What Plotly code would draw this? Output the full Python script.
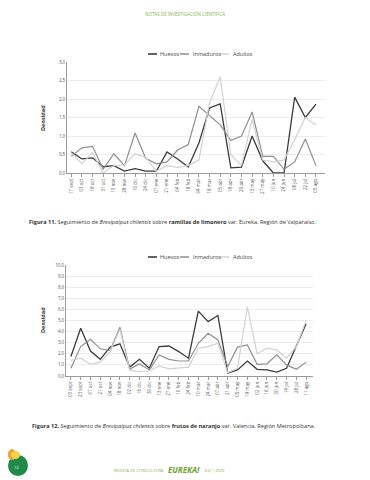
import plotly.graph_objects as go

# ---------------- data ----------------
fechas1 = ["17 sept", "03 oct", "18 oct", "31 oct", "13 nov", "28 nov", "10 dic", "24 dic",
           "07 ene", "21 ene", "04 feb", "18 feb", "04 mar", "18 mar", "05 abr", "18 abr",
           "29 abr", "13 may", "27 may", "10 jun", "24 jun", "08 jul", "22 jul", "05 ago"]
huevos1 = [0.57, 0.38, 0.41, 0.17, 0.20, 0.05, 0.12, 0.05, 0.05, 0.57, 0.38, 0.16,
           0.81, 1.76, 1.87, 0.14, 0.16, 1.00, 0.33, 0.00, 0.00, 2.05, 1.50, 1.86]
inmad1 = [0.45, 0.68, 0.72, 0.10, 0.52, 0.20, 1.08, 0.40, 0.25, 0.30, 0.62, 0.77,
          1.80, 1.55, 1.30, 0.88, 1.00, 1.65, 0.45, 0.45, 0.10, 0.30, 0.92, 0.20]
adult1 = [0.55, 0.25, 0.55, 0.00, 0.20, 0.22, 0.52, 0.42, 0.05, 0.20, 0.15, 0.20,
          0.35, 1.90, 2.60, 0.50, 0.20, 1.45, 0.35, 0.30, 0.35, 0.90, 1.50, 1.30]

fechas2 = ["03 sept", "23 sept", "07 oct", "21 oct", "04 nov", "18 nov", "02 dic", "16 dic",
           "30 dic", "13 ene", "27 ene", "10 feb", "24 feb", "10 mar", "24 mar", "07 abr",
           "21 abr", "05 may", "19 may", "02 jun", "16 jun", "30 jun", "14 jul", "28 jul", "11 ago"]
huevos2 = [1.75, 4.30, 2.25, 1.50, 2.60, 2.90, 0.80, 1.50, 0.70, 2.65, 2.70, 2.20, 1.60,
           5.85, 4.90, 5.45, 0.25, 0.55, 1.35, 0.60, 0.55, 0.35, 0.70, 2.70, 4.70]
inmad2 = [0.70, 2.65, 3.30, 2.45, 2.30, 4.40, 0.60, 1.10, 0.55, 1.90, 1.50, 1.35, 1.35,
          2.95, 3.85, 3.25, 0.85, 2.60, 2.80, 1.05, 1.10, 1.90, 1.00, 0.60, 1.25]
adult2 = [1.40, 1.60, 1.05, 1.25, 2.20, 4.20, 0.50, 0.40, 0.45, 0.90, 0.65, 0.70, 0.80,
          2.50, 2.65, 2.95, 0.30, 0.70, 6.25, 2.00, 2.50, 2.35, 1.60, 2.65, 5.00]

series_names = ["Huevos", "Inmaduros", "Adultos"]
yticks1 = [0, 0.5, 1, 1.5, 2, 2.5, 3]
yticks2 = list(range(0, 11))

# ---------------- style ----------------
OFF = 8                      # default page body margin of the html page
W, H = 370 - OFF, 480 - OFF
colors = ["#3b3b3b", "#8f8f8f", "#d2d2d2"]
widths = [1.3, 1.2, 1.2]
FONT = "Open Sans"

def px(x):
    return (x - OFF) / W

def py(y):
    return 1 - (y - OFF) / H

fig = go.Figure()

for vals, name, c, w in zip([huevos1, inmad1, adult1], series_names, colors, widths):
    fig.add_trace(go.Scatter(x=fechas1, y=vals, name=name, mode="lines",
                             line=dict(color=c, width=w), xaxis="x", yaxis="y",
                             showlegend=False))
for vals, name, c, w in zip([huevos2, inmad2, adult2], series_names, colors, widths):
    fig.add_trace(go.Scatter(x=fechas2, y=vals, name=name, mode="lines",
                             line=dict(color=c, width=w), xaxis="x2", yaxis="y2",
                             showlegend=False))

axis_common = dict(showline=True, linecolor="#9a9a9a", linewidth=0.8,
                   tickfont=dict(family=FONT, size=4.5, color="#555555"),
                   automargin=False, zeroline=False)

fig.update_layout(
    width=W, height=H,
    margin=dict(l=0, r=0, t=0, b=0),
    paper_bgcolor="white", plot_bgcolor="white",
    separators=",.",
    font=dict(family=FONT, color="#444444"),
    xaxis=dict(domain=[px(67), px(325)], anchor="y", type="category",
               range=[-0.4, 23.85], tickangle=-90, showgrid=False,
               ticks="outside", ticklen=3, tickcolor="#9a9a9a", **axis_common),
    yaxis=dict(domain=[py(173), py(62)], anchor="x", range=[0, 3],
               tickvals=yticks1, tickformat=".1f", showgrid=True,
               gridcolor="#ececec", gridwidth=0.6, ticks="", **axis_common),
    xaxis2=dict(domain=[px(66), px(313)], anchor="y2", type="category",
                range=[-0.5, 24.7], tickangle=-90, showgrid=False,
                ticks="outside", ticklen=3, tickcolor="#9a9a9a", **axis_common),
    yaxis2=dict(domain=[py(376), py(265)], anchor="x2", range=[0, 10],
                tickvals=yticks2, tickformat=".1f", showgrid=True,
                gridcolor="#ececec", gridwidth=0.6, ticks="", **axis_common),
)

shapes = []
annotations = []

# manual legends
def legend(ypix):
    items = [(148, 158, "Huevos"), (180, 191, "Inmaduros"), (220, 231, "Adultos")]
    for (x0, xt, name), c, w in zip(items, colors, widths):
        shapes.append(dict(type="line", xref="paper", yref="paper",
                           x0=px(x0), x1=px(x0 + 9), y0=py(ypix), y1=py(ypix),
                           line=dict(color=c, width=w + 0.3)))
        annotations.append(dict(text=name, xref="paper", yref="paper",
                                x=px(xt), y=py(ypix), xanchor="left", yanchor="middle",
                                showarrow=False,
                                font=dict(family=FONT, size=5.5, color="#444444")))

legend(54)
legend(257)

# y-axis titles
for ypix in (118, 320):
    annotations.append(dict(text="<b>Densidad</b>", xref="paper", yref="paper",
                            x=px(43), y=py(ypix), textangle=-90, showarrow=False,
                            xanchor="center", yanchor="middle",
                            font=dict(family=FONT, size=5.5, color="#333333")))

# header
annotations.append(dict(text="NOTAS DE INVESTIGACIÓN CIENTÍFICA", xref="paper", yref="paper",
                        x=px(185), y=py(14), showarrow=False, xanchor="center", yanchor="middle",
                        font=dict(family=FONT, size=4.5, color="#8db04c")))

# captions
annotations.append(dict(
    text="<b>Figura 11.</b> Seguimiento de <i>Brevipalpus chilensis</i> sobre "
         "<b>ramillas de limonero</b> var. Eureka, Región de Valparaíso.",
    xref="paper", yref="paper", x=px(27), y=py(222), showarrow=False,
    xanchor="left", yanchor="middle",
    font=dict(family="Liberation Sans Narrow, Open Sans", size=5.6, color="#333333")))
annotations.append(dict(
    text="<b>Figura 12.</b> Seguimiento de <i>Brevipalpus chilensis</i> sobre "
         "<b>frutos de naranjo</b> var. Valencia, Región Metropolitana.",
    xref="paper", yref="paper", x=px(30), y=py(426), showarrow=False,
    xanchor="left", yanchor="middle",
    font=dict(family="Liberation Sans Narrow, Open Sans", size=5.6, color="#333333")))

# footer
annotations.append(dict(text="REVISTA DE CITRICULTURA", xref="paper", yref="paper",
                        x=px(166), y=py(470), showarrow=False, xanchor="right", yanchor="middle",
                        font=dict(family=FONT, size=4, color="#8db04c")))
annotations.append(dict(text="<b><i>EUREKA!</i></b>", xref="paper", yref="paper",
                        x=px(184), y=py(469), showarrow=False, xanchor="center", yanchor="middle",
                        font=dict(family=FONT, size=8, color="#6aa42b")))
annotations.append(dict(text="2(2) | 2020", xref="paper", yref="paper",
                        x=px(202), y=py(470), showarrow=False, xanchor="left", yanchor="middle",
                        font=dict(family=FONT, size=4, color="#8db04c")))

# page marker
shapes.append(dict(type="circle", xref="paper", yref="paper",
                   x0=px(8), x1=px(28), y0=py(476), y1=py(455),
                   fillcolor="#1f8a4c", line=dict(width=0)))
shapes.append(dict(type="circle", xref="paper", yref="paper",
                   x0=px(8), x1=px(16), y0=py(460), y1=py(449),
                   fillcolor="#f0a23a", line=dict(width=0)))
shapes.append(dict(type="circle", xref="paper", yref="paper",
                   x0=px(11), x1=px(20), y0=py(459), y1=py(451),
                   fillcolor="#f3d24a", line=dict(width=0)))
annotations.append(dict(text="14", xref="paper", yref="paper",
                        x=px(16), y=py(467), showarrow=False, xanchor="center", yanchor="middle",
                        font=dict(family=FONT, size=4, color="#e8f0e0")))

fig.update_layout(shapes=shapes, annotations=annotations)

fig.write_html("out.html")
